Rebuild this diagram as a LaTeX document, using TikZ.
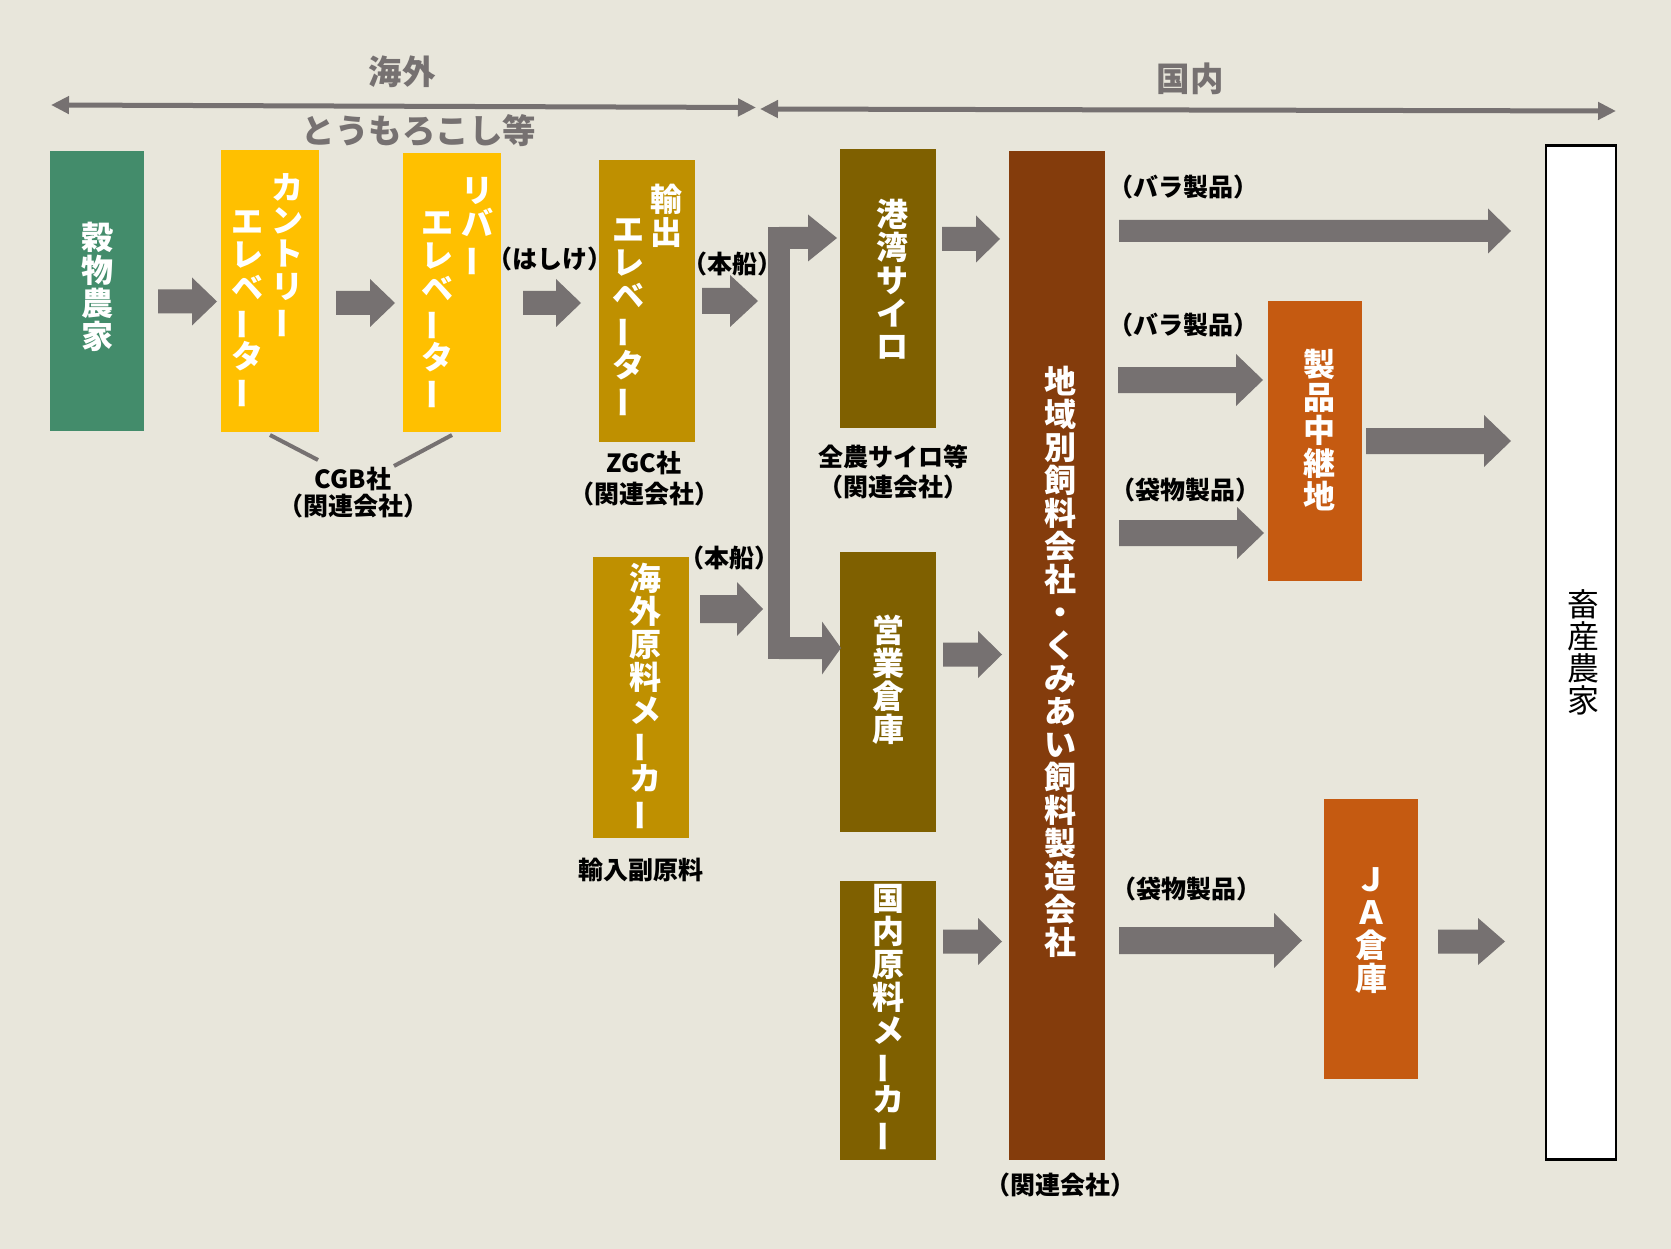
\documentclass[tikz,border=0pt]{standalone}
\usepackage{fontspec}
\usepackage{graphicx}
\setmainfont{Noto Sans CJK JP}
\usetikzlibrary{arrows.meta,calc}
\definecolor{bg}{HTML}{E8E6DB}
\definecolor{agray}{HTML}{767171}
\definecolor{cgreen}{HTML}{438C6B}
\definecolor{cyellow}{HTML}{FFC000}
\definecolor{cgold}{HTML}{BF9000}
\definecolor{colive}{HTML}{7F6000}
\definecolor{cbrown}{HTML}{843C0C}
\definecolor{corange}{HTML}{C55A11}
\newcommand\vb{\rotatebox[origin=c]{90}{ー}}
\tikzset{
  box/.style={rectangle, inner sep=0pt, outer sep=0pt},
  vtext/.style={text=white, font=\bfseries\fontsize{32}{33}\selectfont, align=center, inner sep=0pt},
  lbl/.style={text=black, font=\bfseries\fontsize{25}{27}\selectfont, inner sep=0pt},
  hdr/.style={text=agray, font=\bfseries\fontsize{33.5}{35}\selectfont, inner sep=0pt},
  tline/.style={draw=agray, line width=4pt},
  rangearrow/.style={draw=agray, line width=5pt, {Triangle[length=18pt 0 0,width=17pt 0 0]}-{Triangle[length=18pt 0 0,width=17pt 0 0]}},
  barrow/.style n args={3}{fill=agray, to path={let \p1=(\tikztostart),\p2=(\tikztotarget) in
    (\x1,\y1+#1) -- (\x2-#3,\y1+#1) -- (\x2-#3,\y1+#2) -- (\x2,\y1) -- (\x2-#3,\y1-#2) -- (\x2-#3,\y1-#1) -- (\x1,\y1-#1) -- cycle}}
}
\begin{document}
\begin{tikzpicture}[x=1pt,y=-1pt]
\fill[bg] (0,0) rectangle (1671,1249);
\useasboundingbox (0,0) rectangle (1671,1249);

% boxes
\node[box, fill=cgreen, minimum width=94pt, minimum height=280pt] (kok) at (97,291) {};
\node[box, fill=cyellow, minimum width=98pt, minimum height=282pt] (country) at (270,291) {};
\node[box, fill=cyellow, minimum width=98pt, minimum height=279pt] (river) at (452,292.5) {};
\node[box, fill=cgold, minimum width=96pt, minimum height=282pt] (export) at (647,301) {};
\node[box, fill=cgold, minimum width=96pt, minimum height=281pt] (kaigai) at (641,697.5) {};
\node[box, fill=colive, minimum width=96pt, minimum height=279pt] (kowan) at (888,288.5) {};
\node[box, fill=colive, minimum width=96pt, minimum height=280pt] (eigyo) at (888,692) {};
\node[box, fill=colive, minimum width=96pt, minimum height=279pt] (kokunai) at (888,1020.5) {};
\node[box, fill=cbrown, minimum width=96pt, minimum height=1009pt] (chiiki) at (1057,655.5) {};
\node[box, fill=corange, minimum width=94pt, minimum height=280pt] (chukei) at (1315,441) {};
\node[box, fill=corange, minimum width=94pt, minimum height=280pt] (ja) at (1371,939) {};
\node[box, fill=white, draw=black, line width=2.5pt, minimum width=70pt, minimum height=1014pt] (chiku) at (1581,652.5) {};

% box texts
\node[vtext] (tkok) at (97.5,287) {穀\\物\\農\\家};
\node[vtext] (tce1) at (287,256.5) {カ\\ン\\ト\\リ\\\vb};
\node[vtext] (tce2) at (247,310) {エ\\レ\\ベ\\\vb\\タ\\\vb};
\node[vtext] (tre1) at (477,227.5) {リ\\バ\\\vb};
\node[vtext] (tre2) at (437,311) {エ\\レ\\ベ\\\vb\\タ\\\vb};
\node[vtext] (tex1) at (666,216) {輸\\出};
\node[vtext] (tex2) at (628,318.5) {エ\\レ\\ベ\\\vb\\タ\\\vb};
\node[vtext] (tkg) at (645,697.5) {海\\外\\原\\料\\メ\\\vb\\カ\\\vb};
\node[vtext] (tkw) at (892,279) {港\\湾\\サ\\イ\\ロ};
\node[vtext] (teg) at (888,680) {営\\業\\倉\\庫};
\node[vtext] (tkn) at (888,1018.5) {国\\内\\原\\料\\メ\\\vb\\カ\\\vb};
\node[vtext] (tch) at (1060,662) {地\\域\\別\\飼\\料\\会\\社\\・\\く\\み\\あ\\い\\飼\\料\\製\\造\\会\\社};
\node[vtext] (tcj) at (1319,430.5) {製\\品\\中\\継\\地};
\node[vtext] (tja) at (1371,930.5) {Ｊ\\Ａ\\倉\\庫};
\node[vtext, text=black, font=\fontsize{32}{32}\selectfont] (tcs) at (1583,652) {畜\\産\\農\\家};

% labels
\node[lbl] (lhashike) at (550,259) {（はしけ）};
\node[lbl] (lhon1) at (732.5,264) {（本船）};
\node[lbl] (lhon2) at (729,558) {（本船）};
\node[lbl] (lcgb) at (353,479) {CGB社};
\node[lbl] (lcgb2) at (353,506) {（関連会社）};
\node[lbl] (lzgc) at (644,463) {ZGC社};
\node[lbl] (lzgc2) at (644,494) {（関連会社）};
\node[lbl] (lzen) at (893,457) {全農サイロ等};
\node[lbl] (lzen2) at (893,487) {（関連会社）};
\node[lbl] (lyunyu) at (641,870) {輸入副原料};
\node[lbl] (lkanren) at (1060,1185) {（関連会社）};
\node[lbl] (lbara1) at (1183,187) {（バラ製品）};
\node[lbl] (lbara2) at (1183,325) {（バラ製品）};
\node[lbl] (lfuku1) at (1185,490) {（袋物製品）};
\node[lbl] (lfuku2) at (1186,889) {（袋物製品）};

% headers
\node[hdr] (hkaigai) at (402,72) {海外};
\node[hdr] (hkokunai) at (1190,79) {国内};
\node[hdr] (htomo) at (419,131) {とうもろこし等};

% range arrows
\coordinate (ovL) at (51,105); \coordinate (ovR) at (756,107.5);
\coordinate (dmL) at (760,109); \coordinate (dmR) at (1616,111);
\draw[rangearrow] (ovL) -- (ovR);
\draw[rangearrow] (dmL) -- (dmR);

% CGB lines
\coordinate (cgbA) at (318,460); \coordinate (cgbB) at (394,466);
\draw[tline] ([yshift=-3pt]country.south) -- (cgbA);
\draw[tline] ([yshift=-3pt]river.south) -- (cgbB);

% block arrows
\coordinate (a1s) at (158,301.5); \coordinate (a1e) at (217,301.5);
\coordinate (a2s) at (336,303); \coordinate (a2e) at (395,303);
\coordinate (a3s) at (523,303); \coordinate (a3e) at (581,303);
\coordinate (a4s) at (702,301); \coordinate (a4e) at (758,301);
\coordinate (a5s) at (700,609); \coordinate (a5e) at (763,609);
\coordinate (a7s) at (942,239); \coordinate (a7e) at (1000,239);
\coordinate (a8s) at (943,654.5); \coordinate (a8e) at (1002,654.5);
\coordinate (a9s) at (943,941.5); \coordinate (a9e) at (1002,941.5);
\coordinate (b1s) at (1119,231); \coordinate (b1e) at (1511,231);
\coordinate (b2s) at (1118,380); \coordinate (b2e) at (1263,380);
\coordinate (b3s) at (1119,533); \coordinate (b3e) at (1264,533);
\coordinate (b4s) at (1366,441); \coordinate (b4e) at (1511,441);
\coordinate (b5s) at (1119,940.5); \coordinate (b5e) at (1302,940.5);
\coordinate (b6s) at (1438,941.5); \coordinate (b6e) at (1505,941.5);

\path[barrow={12pt}{24pt}{25pt}] (a1s) to (a1e);
\path[barrow={12pt}{24pt}{25pt}] (a2s) to (a2e);
\path[barrow={12pt}{24pt}{25pt}] (a3s) to (a3e);
\path[barrow={13pt}{26pt}{28pt}] (a4s) to (a4e);
\path[barrow={14pt}{27pt}{26pt}] (a5s) to (a5e);
\path[barrow={12pt}{23.5pt}{24pt}] (a7s) to (a7e);
\path[barrow={12pt}{23.5pt}{24pt}] (a8s) to (a8e);
\path[barrow={12pt}{23.5pt}{24pt}] (a9s) to (a9e);
\path[barrow={11pt}{22.5pt}{23pt}] (b1s) to (b1e);
\path[barrow={13pt}{26pt}{27pt}] (b2s) to (b2e);
\path[barrow={13pt}{26pt}{27pt}] (b3s) to (b3e);
\path[barrow={13pt}{26pt}{27pt}] (b4s) to (b4e);
\path[barrow={13.5pt}{27.5pt}{28pt}] (b5s) to (b5e);
\path[barrow={12pt}{23.5pt}{27pt}] (b6s) to (b6e);

% bent connector
\coordinate (jTop) at (779,238); \coordinate (jBot) at (779,648);
\coordinate (kwIn) at (837,238); \coordinate (egIn) at (841,648);
\fill[agray] ($(jTop)+(-11,-11)$) rectangle ($(jBot)+(11,11)$);
\path[barrow={11pt}{23.5pt}{29pt}] (jTop) to (kwIn);
\path[barrow={11pt}{26.5pt}{19pt}] (jBot) to (egIn);
\end{tikzpicture}
\end{document}
